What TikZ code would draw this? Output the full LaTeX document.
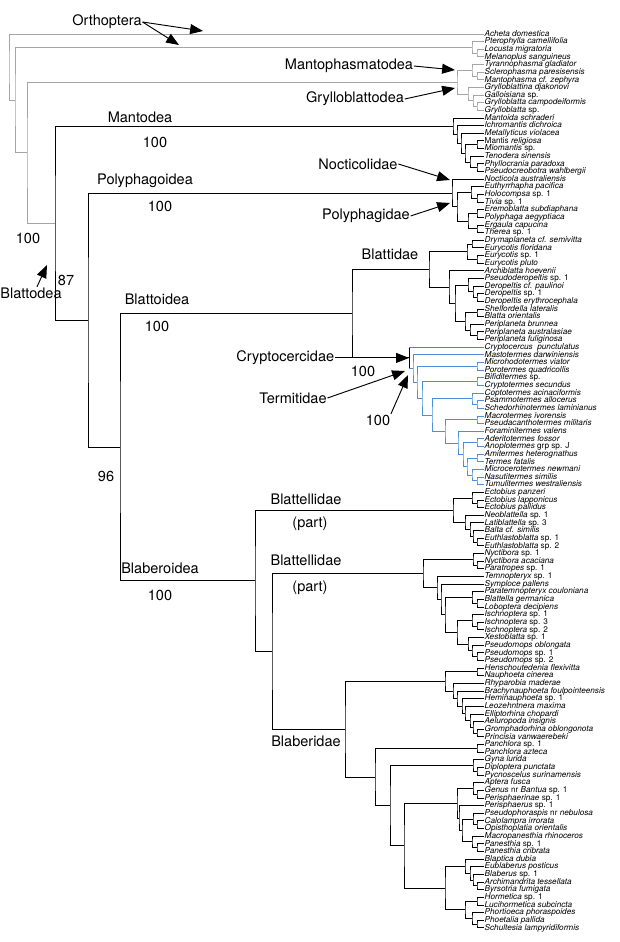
\documentclass[tikz,border=0pt]{standalone}
\usepackage{fontspec}
\setmainfont{TeX Gyre Heros}
\usetikzlibrary{calc,arrows.meta}
\definecolor{orthgray}{RGB}{165,165,165}
\definecolor{termblue}{RGB}{74,144,217}
\definecolor{cryptred}{RGB}{226,80,60}
\newcommand\upr[1]{{\upshape #1}}
\newcommand\clade[5][br]{%
  \path let \p1=($(#4)!.5!(#5)$), \p2=(#3,0) in (\x2,\y1) coordinate (#2);
  \draw[#1] (#4) -| (#2) |- (#5);}

\begin{document}
\begin{tikzpicture}[x=0.03cm, y=-0.03cm,
  br/.style={line width=0.8pt, black},
  og/.style={br, orthgray}, tb/.style={br, termblue}, cr/.style={br, cryptred},
  leaf/.style={anchor=west, inner xsep=0.8pt, inner ysep=0pt, text height=4.9pt,
    text depth=1.2pt, font=\fontsize{7}{7}\selectfont\itshape},
  lab/.style={font=\fontsize{12.4}{13}\selectfont, inner sep=0.5pt},
  arr/.style={line width=0.8pt, -{Triangle[length=11pt,width=8.5pt]}}]
  \useasboundingbox (0,0) rectangle (620,942);

  \foreach \nm [count=\i] in {Acheta domestica, Pterophylla camellifolia,
    Locusta migratoria, Melanoplus sanguineus, Tyrannophasma gladiator,
    Sclerophasma paresisensis, Mantophasma cf. zephyra, Grylloblattina djakonovi,
    Galloisiana \upr{sp.}, Grylloblatta campodeiformis, Grylloblatta \upr{sp.},
    Mantoida schraderi, Ichromantis dichroica, Metallyticus violacea,
    \upr{Mantis} religiosa, Miomantis \upr{sp.}, Tenodera sinensis,
    Phyllocrania paradoxa, Pseudocreobotra wahlbergii, Nocticola australiensis,
    Euthyrrhapha pacifica, Holocompsa \upr{sp. 1}, Tivia \upr{sp. 1},
    Eremoblatta subdiaphana, Polyphaga aegyptiaca, Ergaula capucina,
    Therea \upr{sp. 1}, Drymaplaneta cf. semivitta, Eurycotis floridana,
    Eurycotis \upr{sp. 1}, Eurycotis pluto, Archiblatta hoevenii,
    Pseudoderopeltis \upr{sp. 1}, Deropeltis cf. paulinoi, Deropeltis \upr{sp. 1},
    Deropeltis erythrocephala, Shelfordella lateralis, Blatta orientalis,
    Periplaneta brunnea, Periplaneta australasiae, Periplaneta fuliginosa,
    Cryptocercus\ \ punctulatus, Mastotermes darwiniensis, Microhodotermes viator,
    Porotermes quadricollis, Bifiditermes \upr{sp.}, Cryptotermes secundus,
    Coptotermes acinaciformis, Psammotermes allocerus,
    Schedorhinotermes laminianus, Macrotermes ivorensis,
    Pseudacanthotermes militaris, Foraminitermes valens, Aderitotermes fossor,
    Anoplotermes \upr{grp sp. J}, Amitermes heterognathus, Termes fatalis,
    Microcerotermes newmani, Nasutitermes similis, Tumulitermes westraliensis,
    Ectobius panzeri, Ectobius lapponicus, Ectobius pallidus,
    Neoblattella \upr{sp. 1}, Latiblattella \upr{sp. 3}, Balta cf. similis,
    Euthlastoblatta \upr{sp. 1}, Euthlastoblatta \upr{sp. 2}, Nyctibora \upr{sp. 1},
    Nyctibora acaciana, Paratropes \upr{sp. 1}, Temnopteryx \upr{sp. 1},
    Symploce pallens, Paratemnopteryx couloniana, Blattella germanica,
    Loboptera decipiens, Ischnoptera \upr{sp. 1}, Ischnoptera \upr{sp. 3},
    Ischnoptera \upr{sp. 2}, Xestoblatta \upr{sp. 1}, Pseudomops oblongata,
    Pseudomops \upr{sp. 1}, Pseudomops \upr{sp. 2}, Henschoutedenia flexivitta,
    Nauphoeta cinerea, Rhyparobia maderae, Brachynauphoeta foulpointeensis,
    Heminauphoeta \upr{sp. 1}, Leozehntnera maxima, Elliptorhina chopardi,
    Aeluropoda insignis, Gromphadorhina oblongonota, Princisia vanwaerebeki,
    Panchlora \upr{sp. 1}, Panchlora azteca, Gyna lurida, Diploptera punctata,
    Pycnoscelus surinamensis, Aptera fusca, Genus \upr{nr} Bantua \upr{sp. 1},
    Perisphaerinae \upr{sp. 1}, Perisphaerus \upr{sp. 1},
    Pseudophoraspis \upr{nr} nebulosa, Calolampra irrorata,
    Opisthoplatia orientalis, Macropanesthia rhinoceros, Panesthia \upr{sp. 1},
    Panesthia cribrata, Blaptica dubia, Eublaberus posticus, Blaberus \upr{sp. 1},
    Archimandrita tessellata, Byrsotria fumigata, Hormetica \upr{sp. 1},
    Lucihormetica subcincta, Phortioeca phoraspoides, Phoetalia pallida,
    Schultesia lampyridiformis}
    \node[leaf] (l\i) at (483.5,{34+(\i-1)*7.64}) {\nm};

  \clade[og]{oLM}{477}{l3}{l4}
  \clade[og]{oPt}{472}{l2}{oLM}
  \clade[og]{mpSM}{477}{l6}{l7}
  \clade[og]{mp}{472}{l5}{mpSM}
  \clade[og]{grGG}{477}{l10}{l11}
  \clade[og]{grG}{473}{l9}{grGG}
  \clade[og]{gr}{468}{l8}{grG}
  \clade[og]{mpgr}{457}{mp}{gr}

  \clade{maPP}{477}{l18}{l19}
  \clade{maT}{470}{l17}{maPP}
  \clade{maMM}{477}{l15}{l16}
  \clade{ma4}{465}{maMM}{maT}
  \clade{ma3}{461}{l14}{ma4}
  \clade{ma2}{457}{l13}{ma3}
  \clade{mantodea}{453}{l12}{ma2}

  \clade{poHT}{477}{l22}{l23}
  \clade{poE}{471}{l21}{poHT}
  \clade{poEP}{477}{l24}{l25}
  \clade{poET}{477}{l26}{l27}
  \clade{poE2}{468}{poEP}{poET}
  \clade{polyphagidae}{457}{poE}{poE2}
  \clade{polyphagoidea}{452}{l20}{polyphagidae}

  \clade{blDE}{472}{l28}{l29}
  \clade{blEE}{477}{l30}{l31}
  \clade{blD}{467}{blDE}{blEE}
  \clade{blDD}{477}{l35}{l36}
  \clade{blDp}{473}{l34}{blDD}
  \clade{blPD}{468}{l33}{blDp}
  \clade{blSB}{477}{l37}{l38}
  \clade{blPP}{477}{l40}{l41}
  \clade{blPe}{470}{l39}{blPP}
  \clade{blSP}{465}{blSB}{blPe}
  \clade{bl3}{455}{blPD}{blSP}
  \clade{bl2}{449}{l32}{bl3}
  \clade{blattidae}{429}{blD}{bl2}

  \clade[tb]{tNT}{477}{l59}{l60}
  \clade[tb]{t9}{472}{l58}{tNT}
  \clade[tb]{tAT}{477}{l56}{l57}
  \clade[tb]{t8}{467}{tAT}{t9}
  \clade[tb]{tAA}{477}{l54}{l55}
  \clade[tb]{t7}{463}{tAA}{t8}
  \clade[tb]{t6}{458}{l53}{t7}
  \clade[tb]{tMP}{477}{l51}{l52}
  \clade[tb]{t5}{445}{tMP}{t6}
  \clade[tb]{tPS}{477}{l49}{l50}
  \clade[tb]{tC}{472}{l48}{tPS}
  \clade[tb]{t4}{432}{tC}{t5}
  \clade[tb]{tBC}{477}{l46}{l47}
  \clade[tb]{t3}{422}{tBC}{t4}
  \clade[tb]{tMQ}{477}{l44}{l45}
  \clade[tb]{t2}{417}{tMQ}{t3}
  \clade[tb]{termitidae}{413}{l43}{t2}
  \path let \p1=($(l42)!.5!(termitidae)$), \p2=(409,0) in (\x2,\y1) coordinate (crter);
  \draw[br] (crter |- l42) -- (crter |- termitidae);
  \draw[cr] (crter |- l42) -- (l42);
  \draw[tb] (crter |- termitidae) -- (termitidae);
  \clade{blattoidea}{352}{blattidae}{crter}

  \clade{ecLP}{477}{l62}{l63}
  \clade{ecE}{472}{l61}{ecLP}
  \clade{ecEE}{477}{l67}{l68}
  \clade{ecB}{473}{l66}{ecEE}
  \clade{ecL}{470}{l65}{ecB}
  \clade{ecN}{465}{l64}{ecL}
  \clade{blattellidA}{453}{ecE}{ecN}

  \clade{nyAP}{477}{l70}{l71}
  \clade{nyN}{473}{l69}{nyAP}
  \clade{nyBL}{477}{l75}{l76}
  \clade{nyPB}{472}{l74}{nyBL}
  \clade{nyII}{477}{l78}{l79}
  \clade{nyI}{472}{l77}{nyII}
  \clade{nyPP}{477}{l82}{l83}
  \clade{nyPs}{472}{l81}{nyPP}
  \clade{nyX}{468}{l80}{nyPs}
  \clade{ny5}{457}{nyI}{nyX}
  \clade{ny3}{445}{nyPB}{ny5}
  \clade{ny2}{441}{l73}{ny3}
  \clade{ny1}{437}{l72}{ny2}
  \clade{blattellidB}{423}{nyN}{ny1}

  \clade{bbHN}{477}{l84}{l85}
  \clade{bbGP}{477}{l92}{l93}
  \clade{bbA}{473}{l91}{bbGP}
  \clade{bbE}{470}{l90}{bbA}
  \clade{bbL}{465}{l89}{bbE}
  \clade{bbH}{462}{l88}{bbL}
  \clade{bbB}{457}{l87}{bbH}
  \clade{bbR}{453}{l86}{bbB}
  \clade{bbN}{445}{bbHN}{bbR}
  \clade{bbP}{477}{l94}{l95}
  \clade{bbDP}{477}{l97}{l98}
  \clade{bbG}{473}{l96}{bbDP}
  \clade{peGP}{477}{l100}{l101}
  \clade{peA}{473}{l99}{peGP}
  \clade{peCO}{477}{l104}{l105}
  \clade{pePs}{473}{l103}{peCO}
  \clade{pePC}{477}{l107}{l108}
  \clade{peM}{472}{l106}{pePC}
  \clade{pe3}{462}{pePs}{peM}
  \clade{pe2}{459}{l102}{pe3}
  \clade{pe1}{457}{peA}{pe2}
  \clade{baAB}{477}{l112}{l113}
  \clade{ba3}{473}{l111}{baAB}
  \clade{ba2}{470}{l110}{ba3}
  \clade{ba1}{465}{l109}{ba2}
  \clade{hoHL}{477}{l114}{l115}
  \clade{hoPS}{477}{l117}{l118}
  \clade{hoP}{472}{l116}{hoPS}
  \clade{ho1}{465}{hoHL}{hoP}
  \clade{baho}{445}{ba1}{ho1}
  \clade{bb4}{404}{pe1}{baho}
  \clade{bb3}{390}{bbG}{bb4}
  \clade{bb2}{375}{bbP}{bb3}
  \clade{blaberidae}{345}{bbN}{bb2}
  \clade{bl1}{272}{blattellidB}{blaberidae}
  \clade{blaberoidea}{255}{blattellidA}{bl1}

  \clade{bb96}{120}{blattoidea}{blaberoidea}
  \clade{blattodea}{88}{polyphagoidea}{bb96}
  \clade{dicty}{55}{mantodea}{blattodea}
  \clade[og]{nd3}{27}{mpgr}{dicty}
  \clade[og]{nd2}{15}{oPt}{nd3}
  \clade[og]{root}{9}{l1}{nd2}

  \node[lab] (orth) at (107,22) {Orthoptera};
  \coordinate (orthA) at (203,31);
  \coordinate (orthB) at (179,45);
  \draw[arr] (orth.east) -- (orthA);
  \draw[arr] (orth.east) -- (orthB);
  \node[lab] (mpl) at (349,66) {Mantophasmatodea};
  \coordinate (mpA) at (455,70);
  \draw[arr] (mpl.east) -- (mpA);
  \node[lab] (grl) at (355,99) {Grylloblattodea};
  \coordinate (grA) at (455,88);
  \draw[arr] (grl.east) -- (grA);
  \node[lab] (mal) at (140,117) {Mantodea};
  \node[lab] (mab) at (155,142) {100};
  \node[lab] (ncl) at (358,164) {Nocticolidae};
  \coordinate (ncA) at (450,180);
  \draw[arr] (ncl.east) -- (ncA);
  \node[lab] (pol) at (145,181) {Polyphagoidea};
  \node[lab] (pob) at (160,206) {100};
  \node[lab] (pgl) at (366,216) {Polyphagidae};
  \coordinate (pgA) at (450,203);
  \draw[arr] (pgl.east) -- (pgA);
  \node[lab] (btl) at (390,254) {Blattidae};
  \node[lab] (bol) at (157,299) {Blattoidea};
  \node[lab] (bob) at (157,326) {100};
  \node[lab, anchor=east] (crl) at ($(crter)+(-74,0)$) {Cryptocercidae};
  \draw[arr] (crl) -- (crter);
  \node[lab] (crb) at (363,371) {100};
  \node[lab] (tml) at (293,398) {Termitidae};
  \coordinate (tmA) at (405,371);
  \draw[arr] (tml.east) -- (tmA);
  \node[lab] (tmb) at (378,420) {100};
  \coordinate (tmB) at (408,375);
  \draw[arr] (tmb.north east) -- (tmB);
  \node[lab] (bel) at (306,499) {Blattellidae};
  \node[lab] (bep) at (310,524) {(part)};
  \node[lab] (bel2) at (306,560) {Blattellidae};
  \node[lab] (bep2) at (310,588) {(part)};
  \node[lab] (bbl) at (160,568) {Blaberoidea};
  \node[lab] (bbb) at (160,595) {100};
  \node[lab] (b96) at (106,476) {96};
  \node[lab] (b87) at (66,280) {87};
  \node[lab] (bdl) at (31,293) {Blattodea};
  \coordinate (bdA) at (47,265);
  \draw[arr] ($(bdl.north)+(6,0)$) -- (bdA);
  \node[lab] (rtb) at (28,238) {100};
  \node[lab] (bdx) at (306,741) {Blaberidae};
\end{tikzpicture}
\end{document}
